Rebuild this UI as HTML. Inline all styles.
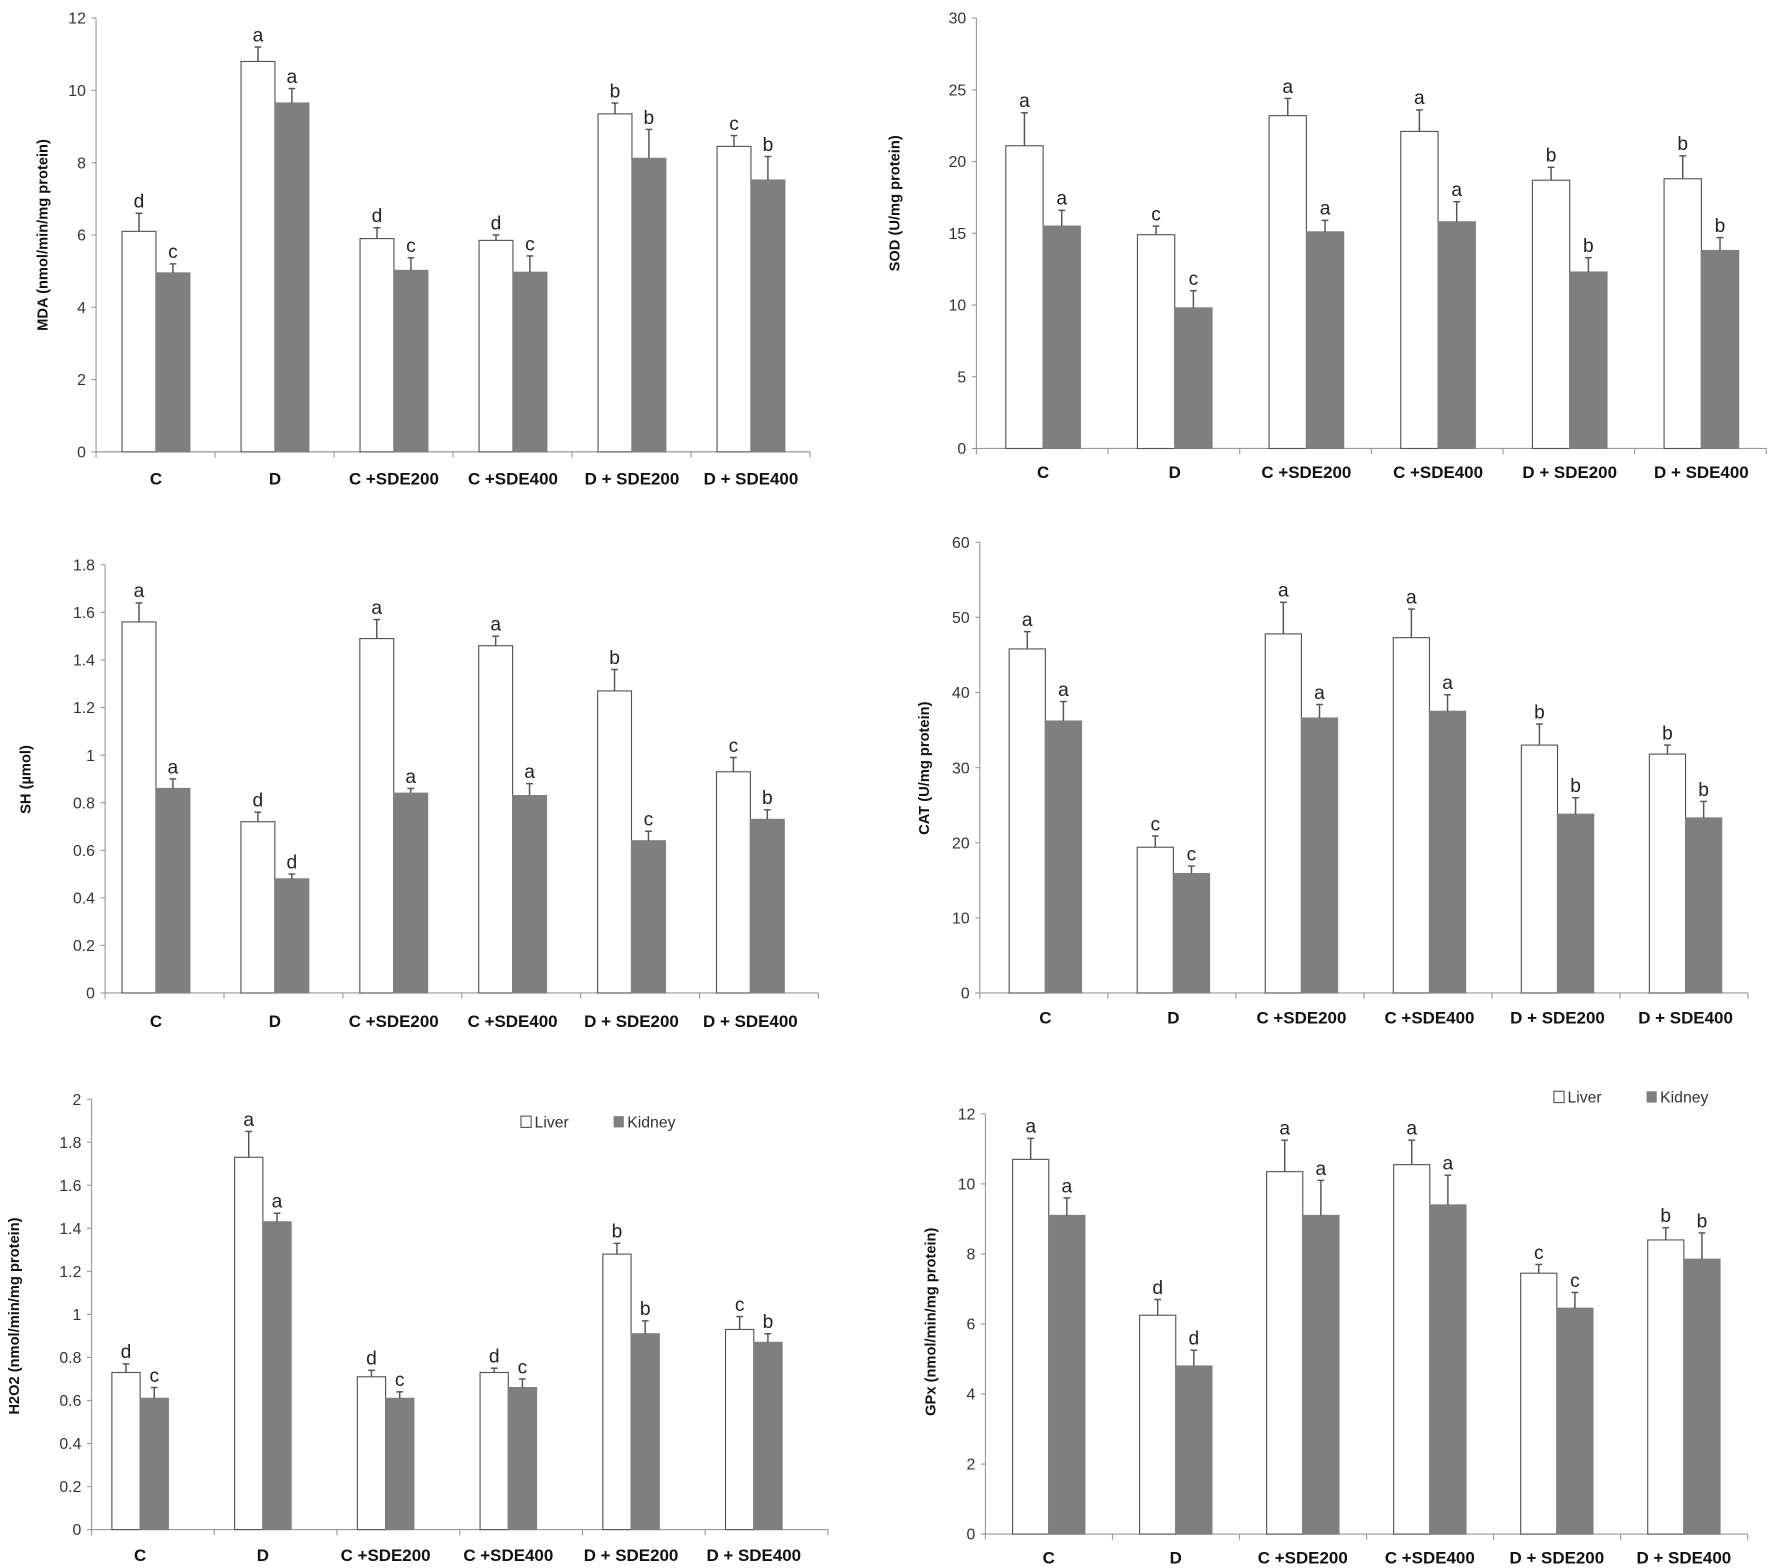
<!DOCTYPE html>
<html><head><meta charset="utf-8"><style>
html,body{margin:0;padding:0;background:#fff}
svg{display:block}
text{font-family:"Liberation Sans",sans-serif}
</style></head><body>
<svg id="fig" width="1772" height="1568" viewBox="0 0 1568 1388" preserveAspectRatio="none" xmlns="http://www.w3.org/2000/svg"></svg>
<script>
const categories = ["C","D","C +SDE200","C +SDE400","D + SDE200","D + SDE400"];

const mdaLiver = [6.1,10.8,5.9,5.85,9.35,8.45];
const mdaLiverErr = [0.5,0.4,0.3,0.15,0.3,0.3];
const mdaKidney = [4.95,9.65,5.02,4.97,8.12,7.52];
const mdaKidneyErr = [0.25,0.4,0.35,0.45,0.8,0.65];
const mdaLiverLetters = ["d","a","d","d","b","c"];
const mdaKidneyLetters = ["c","a","c","c","b","b"];
const mdaTicks = ["0","2","4","6","8","10","12"];

const sodLiver = [21.1,14.9,23.2,22.1,18.7,18.8];
const sodLiverErr = [2.3,0.6,1.2,1.5,0.9,1.6];
const sodKidney = [15.5,9.8,15.1,15.8,12.3,13.8];
const sodKidneyErr = [1.1,1.2,0.8,1.4,1.0,0.9];
const sodLiverLetters = ["a","c","a","a","b","b"];
const sodKidneyLetters = ["a","c","a","a","b","b"];
const sodTicks = ["0","5","10","15","20","25","30"];

const shLiver = [1.56,0.72,1.49,1.46,1.27,0.93];
const shLiverErr = [0.08,0.04,0.08,0.04,0.09,0.06];
const shKidney = [0.86,0.48,0.84,0.83,0.64,0.73];
const shKidneyErr = [0.04,0.02,0.02,0.05,0.04,0.04];
const shLiverLetters = ["a","d","a","a","b","c"];
const shKidneyLetters = ["a","d","a","a","c","b"];
const shTicks = ["0","0.2","0.4","0.6","0.8","1","1.2","1.4","1.6","1.8"];

const catLiver = [45.8,19.4,47.8,47.3,33.0,31.8];
const catLiverErr = [2.3,1.5,4.2,3.8,2.8,1.2];
const catKidney = [36.2,15.9,36.6,37.5,23.8,23.3];
const catKidneyErr = [2.6,1.0,1.8,2.2,2.2,2.2];
const catLiverLetters = ["a","c","a","a","b","b"];
const catKidneyLetters = ["a","c","a","a","b","b"];
const catTicks = ["0","10","20","30","40","50","60"];

const h2o2Liver = [0.73,1.73,0.71,0.73,1.28,0.93];
const h2o2LiverErr = [0.04,0.12,0.03,0.02,0.05,0.06];
const h2o2Kidney = [0.61,1.43,0.61,0.66,0.91,0.87];
const h2o2KidneyErr = [0.05,0.04,0.03,0.04,0.06,0.04];
const h2o2LiverLetters = ["d","a","d","d","b","c"];
const h2o2KidneyLetters = ["c","a","c","c","b","b"];
const h2o2Ticks = ["0","0.2","0.4","0.6","0.8","1","1.2","1.4","1.6","1.8","2"];

const gpxLiver = [10.7,6.25,10.35,10.55,7.45,8.4];
const gpxLiverErr = [0.6,0.45,0.9,0.7,0.25,0.35];
const gpxKidney = [9.1,4.8,9.1,9.4,6.45,7.85];
const gpxKidneyErr = [0.5,0.45,1.0,0.85,0.45,0.75];
const gpxLiverLetters = ["a","d","a","a","c","b"];
const gpxKidneyLetters = ["a","d","a","a","c","b"];
const gpxTicks = ["0","2","4","6","8","10","12"];

const NS="http://www.w3.org/2000/svg";
const svg=document.getElementById('fig');
function mk(tag,attrs,parent){const e=document.createElementNS(NS,tag);for(const k in attrs)e.setAttribute(k,attrs[k]);(parent||svg).appendChild(e);return e;}

function panel(p){
  const g=mk('g',{});
  
  
  const ymax=parseFloat(p.ticks[p.ticks.length-1]);
  const y=v=>p.y0-(v/ymax)*(p.y0-p.yTop);
  const x=i=>p.x0+i*p.step;
  // y axis
  const ya=mk('line',{x1:p.x0,y1:p.yTop,x2:p.x0,y2:p.y0,stroke:'#999','stroke-width':1},g);
  
  
  p.ticks.forEach(t=>{
    const v=parseFloat(t);
    mk('line',{x1:p.x0-4,y1:y(v),x2:p.x0,y2:y(v),stroke:'#999'},g);
    const tx=mk('text',{x:p.x0-9,y:y(v)+5,'text-anchor':'end','font-size':14,fill:'#333'},g);
    tx.textContent=t;
    
    
  });
  const xe=p.x0+6*p.step;
  const xa=mk('line',{x1:p.x0,y1:p.y0,x2:xe,y2:p.y0,stroke:'#999','stroke-width':1},g);
  
  
  for(let i=0;i<=6;i++) mk('line',{x1:x(i),y1:p.y0,x2:x(i),y2:p.y0+5,stroke:'#999'},g);
  // title
  const ty=mk('text',{transform:`translate(${p.titleX},${p.titleY}) rotate(-90)`,'text-anchor':'middle','font-size':13,'font-weight':'bold',fill:'#111'},g);
  ty.textContent=p.title;
  
  
  const series=[[p.liver,p.liverErr,p.liverL,'#fff','liver'],[p.kidney,p.kidneyErr,p.kidneyL,'#7f7f7f','kidney']];
  categories.forEach((c,i)=>{
    series.forEach((s,k)=>{
      const bx=x(i)+p.off+k*p.bw, v=s[0][i], e=s[1][i];
      const r=mk('rect',{x:bx,y:y(v),width:p.bw,height:p.y0-y(v),fill:s[3],stroke:k?'#7f7f7f':'#555','stroke-width':1},g);
      
      
      const cx=bx+p.bw/2, ye=y(v+e);
      const el=mk('line',{x1:cx,y1:y(v),x2:cx,y2:ye,stroke:'#555','stroke-width':1.3},g);
      
      
      mk('line',{x1:cx-3,y1:ye,x2:cx+3,y2:ye,stroke:'#555','stroke-width':1.3},g);
      const lt=mk('text',{x:cx,y:ye-5,'text-anchor':'middle','font-size':17,fill:'#222'},g);
      lt.textContent=s[2][i];
      
      
    });
    const cl=mk('text',{x:x(i)+p.off+p.bw,y:p.labelY,'text-anchor':'middle','font-size':15,'font-weight':'bold',fill:'#111'},g);
    cl.textContent=c;
    
    
  });
  if(p.legend){
    const lg=mk('g',{},g);
    
    
    const [lx,ly]=p.legend;
    mk('rect',{x:lx,y:ly-10,width:9,height:10,fill:'#fff',stroke:'#555'},lg);
    const t1=mk('text',{x:lx+12,y:ly,'font-size':14,fill:'#333'},lg);t1.textContent='Liver';
    
    
    mk('rect',{x:lx+82,y:ly-10,width:9,height:10,fill:'#7f7f7f'},lg);
    const t2=mk('text',{x:lx+94,y:ly,'font-size':14,fill:'#333'},lg);t2.textContent='Kidney';
    
    
  }
}

panel({name:'mda',title:'MDA (nmol/min/mg protein)',ticks:mdaTicks,liver:mdaLiver,liverErr:mdaLiverErr,kidney:mdaKidney,kidneyErr:mdaKidneyErr,liverL:mdaLiverLetters,kidneyL:mdaKidneyLetters,
  x0:85,step:105.3,off:23,bw:30,yTop:16,y0:400,labelY:429,titleX:42,titleY:208});
panel({name:'sod',title:'SOD (U/mg protein)',ticks:sodTicks,liver:sodLiver,liverErr:sodLiverErr,kidney:sodKidney,kidneyErr:sodKidneyErr,liverL:sodLiverLetters,kidneyL:sodKidneyLetters,
  x0:864,step:116.5,off:26,bw:33,yTop:16,y0:397,labelY:423,titleX:796,titleY:180});
panel({name:'sh',title:'SH (µmol)',ticks:shTicks,liver:shLiver,liverErr:shLiverErr,kidney:shKidney,kidneyErr:shKidneyErr,liverL:shLiverLetters,kidneyL:shKidneyLetters,
  x0:93,step:105.2,off:15,bw:30,yTop:500,y0:879,labelY:909,titleX:27,titleY:690});
panel({name:'cat',title:'CAT (U/mg protein)',ticks:catTicks,liver:catLiver,liverErr:catLiverErr,kidney:catKidney,kidneyErr:catKidneyErr,liverL:catLiverLetters,kidneyL:catKidneyLetters,
  x0:867,step:113.3,off:26,bw:32,yTop:480,y0:879,labelY:906,titleX:822,titleY:680});
panel({name:'h2o2',title:'H2O2 (nmol/min/mg protein)',ticks:h2o2Ticks,liver:h2o2Liver,liverErr:h2o2LiverErr,kidney:h2o2Kidney,kidneyErr:h2o2KidneyErr,liverL:h2o2LiverLetters,kidneyL:h2o2KidneyLetters,
  x0:81,step:108.6,off:18,bw:25,yTop:973,y0:1354,labelY:1382,titleX:17,titleY:1165,legend:[461,998]});
panel({name:'gpx',title:'GPx (nmol/min/mg protein)',ticks:gpxTicks,liver:gpxLiver,liverErr:gpxLiverErr,kidney:gpxKidney,kidneyErr:gpxKidneyErr,liverL:gpxLiverLetters,kidneyL:gpxKidneyLetters,
  x0:872,step:112.4,off:24,bw:32,yTop:986,y0:1358,labelY:1384,titleX:828,titleY:1170,legend:[1375,976]});
</script>
</body></html>
